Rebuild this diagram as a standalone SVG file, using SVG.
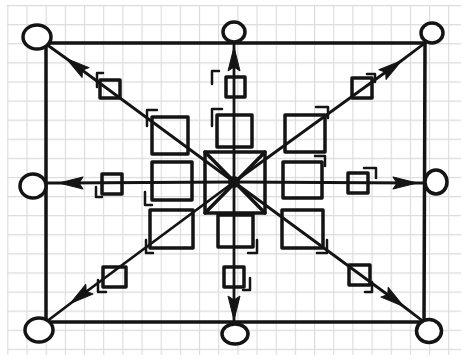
<svg xmlns="http://www.w3.org/2000/svg" width="461" height="359" viewBox="0 0 461 359">
<style>
.ln{fill:none;stroke:#141414;stroke-width:3.5;stroke-linecap:round;stroke-linejoin:round}
.nd{fill:#fff;stroke:#141414;stroke-width:3.5}
.br{fill:none;stroke:#141414;stroke-width:2.5;stroke-linecap:round;stroke-linejoin:round}
.arr{fill:none;stroke:#141414;stroke-width:2.8;stroke-linecap:round;marker-mid:url(#ah)}
</style>
<defs>
<pattern id="grid" x="7.3" y="5" width="19.17" height="19.1" patternUnits="userSpaceOnUse">
<path d="M0.5,0 V19.1 M0,0.5 H19.17" fill="none" stroke="#dadada" stroke-width="1.2"/>
</pattern>
<marker id="ah" viewBox="-25 -8 27 16" refX="0" refY="0" markerWidth="27" markerHeight="16" markerUnits="userSpaceOnUse" orient="auto">
<path d="M1,0 L-23,-6 L-19,0 L-23,6 Z" fill="#141414" stroke="#141414" stroke-width="1" stroke-linejoin="round"/>
</marker>
</defs>
<rect width="461" height="359" fill="#fff"/>
<rect x="7" y="5" width="454" height="350" fill="url(#grid)"/>

<g id="connectors">
<path class="ln" d="M47,43 L425,43"/>
<path class="ln" d="M425,43 L424,322"/>
<path class="ln" d="M424,322 L46,322"/>
<path class="ln" d="M46,322 L46,44"/>
<path class="arr" d="M234,182 L67,59 L46,44"/>
<path class="arr" d="M234,182 L234,48 L234,42"/>
<path class="arr" d="M234,182 L401,61 L425,43"/>
<path class="arr" d="M234,182 L60,183 L45,183"/>
<path class="arr" d="M234,182 L416,183 L424,183"/>
<path class="arr" d="M234,182 L71,303 L46,322"/>
<path class="arr" d="M234,182 L234,319 L234,322"/>
<path class="arr" d="M234,182 L403,306 L424,322"/>
</g>

<g id="center">
<rect class="ln" x="205" y="152" width="60" height="61"/>
<path class="ln" d="M205,152 L265,213 M265,152 L205,213"/>
<circle cx="234" cy="182" r="6" fill="#141414"/>
</g>

<g id="sq-tl"><rect class="ln" x="152" y="117" width="36" height="37"/><path class="br" d="M157,110 H147 V126"/></g>
<g id="sq-tm"><rect class="ln" x="217" y="115" width="35" height="32"/><path class="br" d="M222,109 H212 V126"/></g>
<g id="sq-tr"><rect class="ln" x="285" y="115" width="40" height="37"/><path class="br" d="M316,107 H328 V118"/></g>
<g id="sq-lm"><rect class="ln" x="152" y="162" width="40" height="38"/><path class="br" d="M145,192 V205 H152"/></g>
<g id="sq-rm"><rect class="ln" x="283" y="162" width="39" height="36"/><path class="br" d="M315,156 H325 V166"/></g>
<g id="sq-bl"><rect class="ln" x="150" y="210" width="43" height="38"/><path class="br" d="M146,240 V253 H153"/></g>
<g id="sq-bm"><rect class="ln" x="218" y="215" width="35" height="32"/><path class="br" d="M257,240 V253 H248"/></g>
<g id="sq-br"><rect class="ln" x="282" y="210" width="41" height="38"/><path class="br" d="M327,240 V253 H317"/></g>

<g id="ss-tl"><rect class="ln" x="100" y="80" width="20" height="18"/><path class="br" d="M103,73 H97 V87"/></g>
<g id="ss-t"><rect class="ln" x="226" y="77" width="19" height="20"/><path class="br" d="M219,71 H212 V84"/></g>
<g id="ss-tr"><rect class="ln" x="352" y="78" width="20" height="20"/><path class="br" d="M367,74 H375 V82"/></g>
<g id="ss-l"><rect class="ln" x="102" y="174" width="20" height="20"/><path class="br" d="M96,187 V197 H102"/></g>
<g id="ss-r"><rect class="ln" x="348" y="173" width="20" height="20"/><path class="br" d="M364,168 H376 V178"/></g>
<g id="ss-bl"><rect class="ln" x="103" y="267" width="23" height="20"/><path class="br" d="M98,280 V292 H106"/></g>
<g id="ss-b"><rect class="ln" x="224" y="267" width="20" height="20"/><path class="br" d="M250,278 V290 H243"/></g>
<g id="ss-br"><rect class="ln" x="349" y="265" width="21" height="20"/><path class="br" d="M372,282 V292 H365"/></g>

<g id="n-tl"><ellipse class="nd" cx="37" cy="37" rx="14" ry="12"/></g>
<g id="n-t"><ellipse class="nd" cx="234" cy="32" rx="11" ry="10"/></g>
<g id="n-tr"><ellipse class="nd" cx="432" cy="33" rx="11" ry="10"/></g>
<g id="n-l"><ellipse class="nd" cx="33" cy="186" rx="13" ry="12"/></g>
<g id="n-r"><ellipse class="nd" cx="436" cy="182" rx="11" ry="12"/></g>
<g id="n-bl"><ellipse class="nd" cx="39" cy="330" rx="14" ry="12"/></g>
<g id="n-b"><ellipse class="nd" cx="235" cy="334" rx="13" ry="10"/></g>
<g id="n-br"><ellipse class="nd" cx="429" cy="331" rx="12.5" ry="11.5"/></g>
</svg>
